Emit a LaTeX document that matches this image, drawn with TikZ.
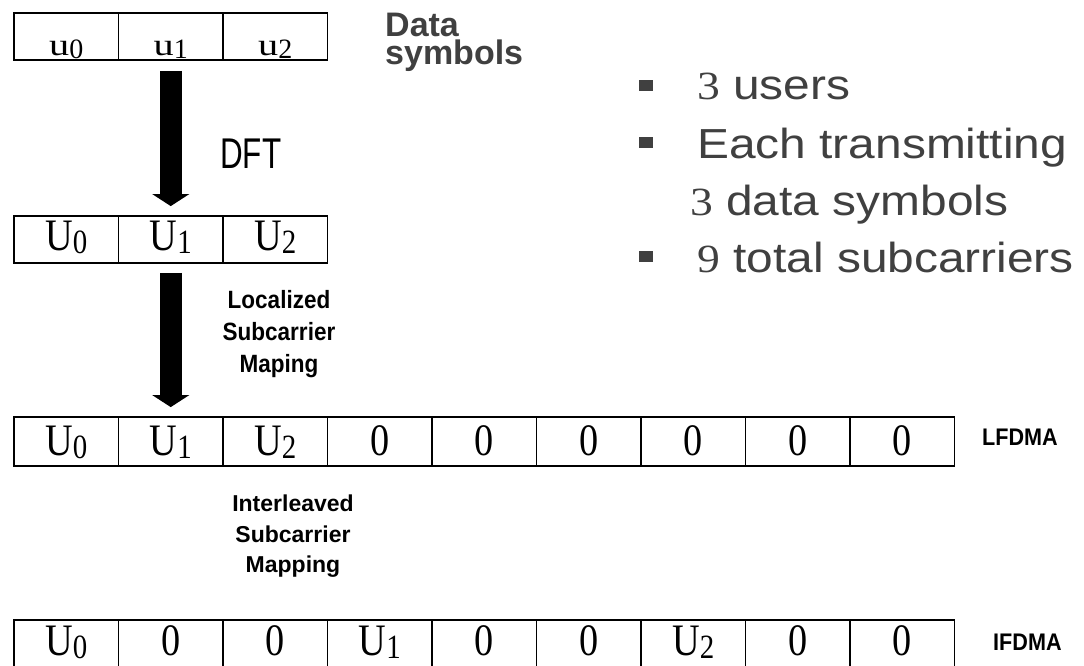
\documentclass[tikz,border=0pt]{standalone}
\usepackage{fontspec}
\setmainfont{Liberation Serif}
\newfontfamily\cellfont[FakeStretch=0.85]{Liberation Serif}
\newfontfamily\ufont[FakeStretch=1.3]{Liberation Serif}
\newfontfamily\usubfont{Liberation Serif}
\newfontfamily\bulfont[FakeStretch=1.14]{Liberation Sans}
\newfontfamily\buldig[FakeStretch=1.14]{Liberation Serif}
\newfontfamily\dftfont[FakeStretch=0.73]{Liberation Sans}
\newfontfamily\labfont[FakeStretch=0.9]{Liberation Sans}
\newfontfamily\plainsans{Liberation Sans}
\usetikzlibrary{arrows.meta}
\definecolor{txtgray}{HTML}{404040}
\newcommand\Usub[1]{\raisebox{-3pt}{\fontsize{34pt}{34pt}\selectfont #1}}
\newcommand\usub[1]{\raisebox{-3pt}{\usubfont\fontsize{28pt}{28pt}\selectfont #1}}
\tikzset{
  cell/.style={draw, line width=1.8pt, inner sep=0pt, minimum width=104.5pt, anchor=center},
  rowA/.style={cell, text height=43pt, text depth=4pt, font=\ufont\fontsize{31pt}{31pt}\selectfont},
  rowB/.style={cell, text height=34pt, text depth=13pt, font=\cellfont\fontsize{45pt}{45pt}\selectfont},
  rowC/.style={cell, text height=38pt, text depth=11pt, font=\cellfont\fontsize{45pt}{45pt}\selectfont},
  rowD/.style={cell, text height=35pt, text depth=13pt, font=\cellfont\fontsize{45pt}{45pt}\selectfont},
  bigarrow/.style={line width=22pt, -{Triangle[width=37pt,length=12pt,line width=0pt]}},
  bsq/.style={fill=txtgray, minimum width=14pt, minimum height=11pt, inner sep=0pt},
  btxt/.style={anchor=base west, inner sep=0pt, text=txtgray, font=\bulfont\fontsize{42pt}{42pt}\selectfont},
  steplabel/.style={align=center, inner sep=0pt},
  tag/.style={anchor=base west, inner sep=0pt, font=\labfont\bfseries\fontsize{24pt}{24pt}\selectfont}
}
\newcommand\dg[1]{{\buldig\fontsize{40pt}{40pt}\selectfont #1}}
\begin{document}
\begin{tikzpicture}[x=1pt,y=-1pt]
\useasboundingbox (0,0) rectangle (1084,666);
% row A: data symbols
\foreach \t [count=\i] in {u\usub{0},u\usub{1},u\usub{2}}
  \node[rowA] (a\i) at ({14+104.5*(\i-0.5)},36.5) {\t};
% row B: DFT output
\foreach \t [count=\i] in {U\Usub{0},U\Usub{1},U\Usub{2}}
  \node[rowB] (b\i) at ({14+104.5*(\i-0.5)},239.5) {\t};
% row C: LFDMA
\foreach \t [count=\i] in {U\Usub{0},U\Usub{1},U\Usub{2},0,0,0,0,0,0}
  \node[rowC] (c\i) at ({14+104.5*(\i-0.5)},441.5) {\t};
% row D: IFDMA
\foreach \t [count=\i] in {U\Usub{0},0,0,U\Usub{1},0,0,U\Usub{2},0,0}
  \node[rowD] (d\i) at ({14+104.5*(\i-0.5)},644) {\t};
% arrows
\draw[bigarrow] ([yshift=-10pt]a2.south) -- ([yshift=9pt]b2.north);
\draw[bigarrow] ([yshift=-9pt]b2.south) -- ([yshift=9pt]c2.north);
% labels
\node[anchor=base west, inner sep=0pt, text=txtgray,
      font=\plainsans\bfseries\fontsize{34pt}{34pt}\selectfont] (data) at (385,37) {Data};
\node[anchor=base west, inner sep=0pt, text=txtgray,
      font=\plainsans\bfseries\fontsize{34pt}{34pt}\selectfont] (symb) at (385,65) {symbols};
\node[anchor=base west, inner sep=0pt, font=\dftfont\fontsize{43pt}{43pt}\selectfont] (dft) at (220,168) {DFT};
\node[steplabel, font=\labfont\bfseries\fontsize{25pt}{32pt}\selectfont] (loc) at (279,334.5) {Localized\\Subcarrier\\Maping};
\node[steplabel, font=\plainsans\bfseries\fontsize{23pt}{30.5pt}\selectfont] (inter) at (293,536.5) {Interleaved\\Subcarrier\\Mapping};
\node[tag] (lf) at (982,445) {LFDMA};
\node[tag] (if) at (993,650) {IFDMA};
% bullets
\node[bsq] (s1) at (645.5,85.3) {};
\node[bsq] (s2) at (645.5,142.3) {};
\node[bsq] (s3) at (645.5,256.7) {};
\node[btxt] (t1) at (697,100) {\dg{3} users};
\node[btxt] (t2) at (697,158) {Each transmitting};
\node[btxt] (t3) at (690,215) {\dg{3} data symbols};
\node[btxt] (t4) at (697,272) {\dg{9} total subcarriers};
\end{tikzpicture}
\end{document}
